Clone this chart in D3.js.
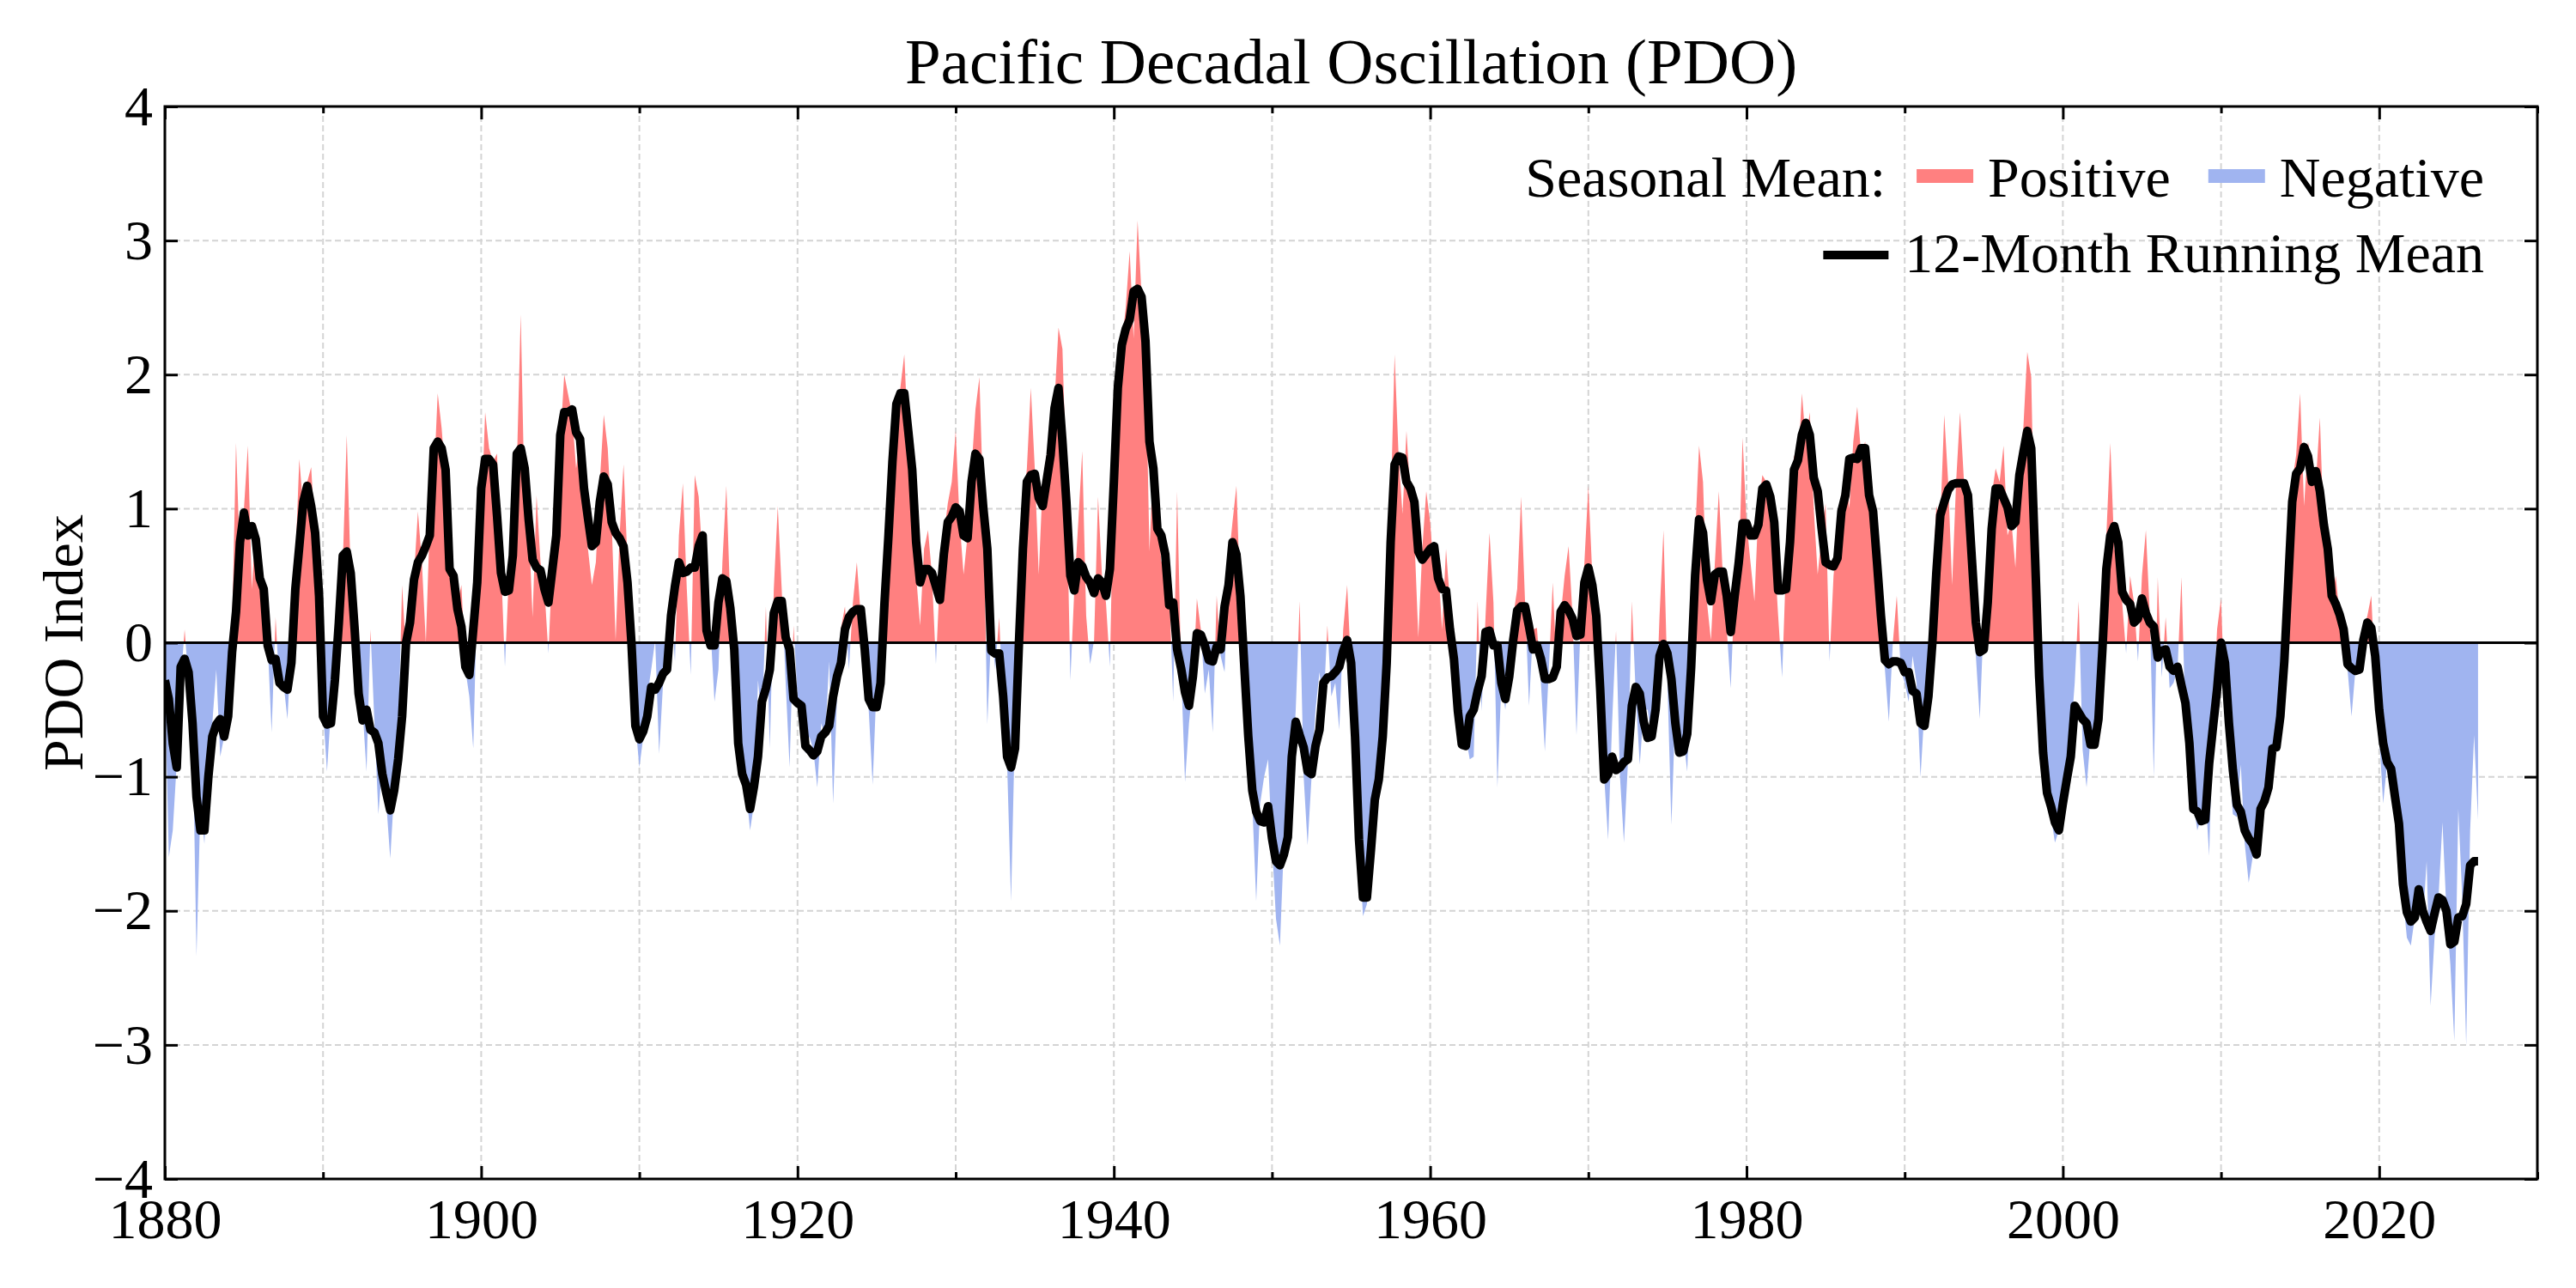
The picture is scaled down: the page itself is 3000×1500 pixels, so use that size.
<!DOCTYPE html>
<html lang="en">
<head>
<meta charset="UTF-8">
<title>Pacific Decadal Oscillation (PDO)</title>
<script src="https://cdn.jsdelivr.net/npm/d3@7"></script>
<style>
    body{ margin:0; background:#fff; }
    text{
        font-family: "Liberation Serif", "Times New Roman", serif;
        fill: #000;
    }
</style>
</head>
<body>
<div class="container"></div>
<script>
    ////////////////////////////////////////////////////////////////
    /*          Data (quarterly, starting 1880.00)                */
    ////////////////////////////////////////////////////////////////

    const startYear = 1880
    const stepYears = 0.25

    // seasonal mean PDO index, one value per season
    const seasonal = [
        -0.30,-1.60,-1.40,-0.90, -0.30,0.10,-0.30,-0.60, -2.34,-1.20,-1.50,-0.90, -0.60,-0.20,-0.85,-0.70, -0.50,0.10,1.49,0.60,
        1.00,1.47,0.40,0.90, 0.50,0.30,0.00,-0.67, 0.19,-0.35,-0.30,-0.57, 0.00,0.60,1.37,1.00, 1.20,1.31,0.80,0.20,
        -0.50,-0.96,-0.50,-0.10, 0.30,0.60,1.55,0.50, 0.10,-0.40,-0.50,-0.96, 0.10,-0.60,-1.28,-0.90, -1.20,-1.61,-1.10,-0.70,
        0.43,-0.10,0.30,0.50, 0.98,0.60,0.00,0.90, 1.20,1.86,1.60,1.20, 0.70,0.55,0.30,0.43, -0.20,-0.40,-0.79,0.40,
        0.90,1.72,1.45,1.35, 1.41,0.60,-0.18,0.50, 0.90,1.30,2.45,1.00, 0.90,0.19,1.10,0.60, 0.40,-0.08,0.60,0.90,
        1.50,2.00,1.85,1.70, 1.30,1.50,1.00,0.70, 0.43,0.60,1.20,1.70, 1.45,0.90,0.02,0.80, 1.33,0.60,0.10,-0.60,
        -0.93,-0.70,-0.40,-0.20, 0.02,-0.83,-0.30,-0.10, 0.30,-0.14,0.80,1.19, 0.40,-0.24,1.25,1.09, 0.60,0.10,0.10,-0.44,
        -0.20,0.60,1.17,0.30, -0.30,-0.83,-0.90,-1.10, -1.40,-1.20,-0.28,-0.60, 0.27,-0.79,0.40,1.02, 0.40,-0.30,-0.93,0.13,
        -0.40,-0.50,-0.83,-0.70, -0.80,-1.08,-0.60,-0.70, -0.14,-1.20,-0.40,0.11, 0.27,-0.20,0.30,0.60, 0.20,-0.20,-0.50,-1.06,
        -0.30,0.10,0.50,1.00, 1.40,1.60,1.90,2.15, 1.50,1.20,0.50,0.13, 0.70,0.84,0.50,-0.16, 0.50,0.80,1.04,1.20,
        1.58,0.90,0.51,0.80, 1.30,1.74,1.98,1.00, -0.61,0.10,-0.20,0.19, -0.50,-0.90,-1.93,-0.60, 0.30,1.00,1.30,1.90,
        1.30,0.51,1.20,1.40, 1.60,1.80,2.35,2.19, 1.20,-0.28,0.40,0.90, 1.43,0.20,-0.16,0.02, 1.09,0.50,0.30,-0.18,
        1.30,2.02,2.23,2.50, 2.92,2.27,3.15,2.60, 2.20,0.68,1.40,1.00, 0.60,0.70,0.40,-0.44, 1.13,-0.20,-1.04,-0.60,
        -0.30,0.33,0.10,-0.38, -0.20,-0.67,0.35,-0.10, -0.22,0.60,0.90,1.17, 0.30,-0.30,-0.90,-1.20, -1.93,-1.20,-1.00,-0.87,
        -1.50,-2.06,-2.26,-1.50, -1.20,-1.00,-0.50,0.31, -1.00,-1.51,-1.00,-0.50, -0.22,-0.50,0.13,-0.40, -0.30,-0.65,0.10,0.43,
        -0.20,-1.00,-1.50,-2.04, -1.95,-1.50,-1.10,-0.90, -0.50,0.20,1.00,2.15, 1.40,0.96,1.58,1.10, 0.80,0.04,0.70,1.13,
        0.90,0.50,0.60,0.10, 0.70,0.30,-0.30,-0.60, -0.80,-0.70,-0.87,-0.85, 0.31,-0.51,0.20,0.82, 0.30,-1.08,-0.30,-0.50,
        -0.20,0.20,0.40,1.09, 0.30,-0.47,0.10,0.11, -0.30,-0.81,-0.20,0.45, -0.20,0.20,0.50,0.72, 0.20,-0.69,0.10,0.60,
        1.17,0.50,0.10,-0.50, -1.00,-1.47,-0.60,0.09, -1.00,-1.49,-0.90,0.31, -0.40,-0.91,-0.50,-0.50, -0.71,-0.60,0.20,0.84,
        -0.30,-1.36,-0.50,-0.80, -0.70,-0.96,-0.20,0.80, 1.47,1.20,0.30,0.02, 0.60,1.13,0.50,0.10, -0.34,0.40,0.50,1.53,
        0.90,0.60,0.31,1.00, 1.25,1.20,1.00,0.70, 0.20,-0.26,0.60,1.00, 1.40,1.30,1.86,1.50, 1.72,1.00,0.51,0.80,
        1.04,-0.14,0.50,0.80, 1.10,1.30,1.00,1.50, 1.76,1.40,1.50,1.20, 0.70,0.40,0.00,-0.20, -0.59,0.00,0.35,-0.20,
        -0.30,-0.44,-0.10,-0.30, -1.00,-0.50,-0.20,0.40, 1.02,0.90,1.70,1.20, 0.43,1.20,1.72,1.20, 0.90,0.30,-0.10,-0.57,
        0.20,0.50,1.10,1.30, 1.20,1.47,0.80,0.90, 0.56,1.30,1.60,2.17, 1.98,0.50,-0.40,-1.00, -1.20,-1.30,-1.49,-1.40,
        -1.00,-1.20,-0.70,-0.30, 0.31,-0.80,-1.08,-0.70, -0.70,-0.40,0.20,0.80, 1.49,0.70,0.60,0.30, -0.08,0.50,0.30,-0.14,
        0.50,0.84,0.20,-1.00, 0.49,-0.26,0.19,-0.34, -0.30,-0.20,0.49,-0.60, -1.00,-1.20,-1.40,-1.30, -1.10,-1.59,-0.50,0.10,
        0.33,-0.50,-0.90,-1.28, -1.30,-0.91,-1.50,-1.79, -1.60,-1.50,-1.30,-1.10, -1.20,-0.80,-0.60,-0.40, 0.00,0.60,1.20,1.40,
        1.86,1.02,1.50,1.30, 1.20,1.68,0.80,0.50, 0.30,0.50,0.20,0.10, -0.20,-0.55,-0.20,-0.10, 0.10,0.20,0.35,-0.30,
        -0.70,-1.20,-0.90,-0.95, -1.30,-1.50,-1.90,-2.20, -2.26,-2.05,-1.90,-2.10, -1.63,-2.71,-2.20,-1.90, -1.34,-2.00,-2.40,-2.97,
        -1.24,-1.90,-3.00,-1.40, -0.69,-1.32
    ]

    // 12-month running mean, sampled on the same quarterly grid
    const runningMean = [
        -0.28,-0.42,-0.75,-0.93, -0.18,-0.12,-0.22,-0.60, -1.15,-1.40,-1.40,-1.00, -0.70,-0.61,-0.57,-0.70, -0.55,-0.07,0.23,0.75,
        0.97,0.80,0.87,0.77, 0.48,0.40,-0.02,-0.13, -0.12,-0.30,-0.33,-0.35, -0.15,0.40,0.72,1.05, 1.17,1.02,0.82,0.35,
        -0.55,-0.61,-0.60,-0.28, 0.15,0.65,0.68,0.52, 0.10,-0.38,-0.58,-0.50, -0.65,-0.67,-0.75,-0.98, -1.12,-1.25,-1.10,-0.87,
        -0.55,0.00,0.15,0.47, 0.60,0.65,0.72,0.80, 1.45,1.50,1.45,1.29, 0.55,0.50,0.25,0.12, -0.18,-0.24,0.10,0.45,
        1.15,1.37,1.37,1.33, 0.95,0.52,0.38,0.39, 0.65,1.41,1.45,1.30, 0.92,0.62,0.56,0.54, 0.40,0.30,0.55,0.80,
        1.55,1.72,1.72,1.74, 1.57,1.52,1.15,0.93, 0.72,0.75,1.05,1.24, 1.18,0.90,0.82,0.78, 0.72,0.45,0.00,-0.62,
        -0.72,-0.66,-0.55,-0.33, -0.35,-0.30,-0.23,-0.20, 0.20,0.42,0.60,0.52, 0.53,0.56,0.56,0.72, 0.80,0.09,-0.02,-0.02,
        0.30,0.48,0.46,0.26, -0.05,-0.75,-0.98,-1.06, -1.24,-1.07,-0.85,-0.44, -0.34,-0.20,0.22,0.31, 0.31,0.04,-0.05,-0.42,
        -0.45,-0.47,-0.77,-0.80, -0.84,-0.81,-0.70,-0.67, -0.62,-0.40,-0.25,-0.15, 0.10,0.19,0.23,0.25, 0.25,-0.05,-0.42,-0.48,
        -0.48,-0.30,0.30,0.80, 1.35,1.78,1.86,1.86, 1.58,1.29,0.75,0.45, 0.55,0.55,0.52,0.42, 0.32,0.66,0.90,0.94,
        1.01,0.98,0.80,0.78, 1.20,1.41,1.37,1.00, 0.70,-0.06,-0.08,-0.08, -0.40,-0.85,-0.93,-0.79, 0.00,0.70,1.20,1.25,
        1.26,1.08,1.02,1.21, 1.40,1.75,1.90,1.50, 1.05,0.50,0.39,0.60, 0.57,0.49,0.45,0.37, 0.48,0.45,0.35,0.55,
        1.20,1.90,2.22,2.34, 2.41,2.62,2.64,2.58, 2.25,1.50,1.30,0.85, 0.80,0.66,0.28,0.30, -0.05,-0.19,-0.37,-0.47,
        -0.25,0.07,0.06,-0.02, -0.13,-0.14,-0.03,-0.05, 0.27,0.43,0.75,0.66, 0.35,-0.18,-0.70,-1.10, -1.26,-1.33,-1.34,-1.22,
        -1.46,-1.63,-1.66,-1.58, -1.45,-0.85,-0.59,-0.69, -0.78,-0.96,-0.98,-0.77, -0.65,-0.30,-0.26,-0.25, -0.22,-0.18,-0.06,0.02,
        -0.15,-0.70,-1.47,-1.90, -1.90,-1.55,-1.17,-1.02, -0.70,-0.15,0.75,1.33, 1.39,1.38,1.20,1.15, 1.05,0.68,0.62,0.66,
        0.70,0.72,0.48,0.40, 0.39,0.10,-0.12,-0.51, -0.76,-0.77,-0.55,-0.50, -0.36,-0.25,0.08,0.09, -0.02,-0.02,-0.30,-0.42,
        -0.25,0.02,0.24,0.27, 0.27,0.12,-0.05,-0.02, -0.12,-0.27,-0.27,-0.26, -0.18,0.23,0.28,0.24, 0.18,0.05,0.06,0.45,
        0.56,0.43,0.20,-0.35, -1.02,-0.98,-0.85,-0.95, -0.93,-0.89,-0.87,-0.47, -0.33,-0.38,-0.59,-0.71, -0.70,-0.50,-0.10,-0.01,
        -0.08,-0.27,-0.60,-0.82, -0.81,-0.68,-0.18,0.50, 0.92,0.82,0.47,0.31, 0.51,0.53,0.53,0.35, 0.08,0.35,0.59,0.89,
        0.89,0.80,0.80,0.88, 1.15,1.18,1.09,0.90, 0.39,0.39,0.40,0.75, 1.29,1.36,1.55,1.64, 1.55,1.23,1.13,0.85,
        0.60,0.58,0.57,0.63, 0.98,1.10,1.37,1.38, 1.37,1.45,1.45,1.10, 0.98,0.60,0.20,-0.13, -0.16,-0.14,-0.14,-0.15,
        -0.22,-0.22,-0.36,-0.38, -0.60,-0.62,-0.40,0.00, 0.52,0.95,1.05,1.14, 1.18,1.19,1.19,1.19, 1.10,0.62,0.15,-0.07,
        -0.05,0.30,0.85,1.15, 1.15,1.08,1.01,0.87, 0.90,1.25,1.42,1.58, 1.45,0.62,-0.25,-0.82, -1.12,-1.22,-1.34,-1.40,
        -1.20,-1.02,-0.85,-0.47, -0.52,-0.57,-0.60,-0.76, -0.76,-0.57,-0.05,0.55, 0.80,0.87,0.75,0.38, 0.32,0.29,0.15,0.18,
        0.33,0.22,0.15,0.12, -0.11,-0.06,-0.05,-0.18, -0.21,-0.18,-0.32,-0.45, -0.75,-1.24,-1.26,-1.33, -1.32,-0.90,-0.62,-0.35,
        0.00,-0.15,-0.60,-0.95, -1.21,-1.26,-1.40,-1.46, -1.50,-1.58,-1.24,-1.18, -1.08,-0.79,-0.78,-0.55, -0.14,0.45,1.05,1.26,
        1.30,1.46,1.39,1.20, 1.28,1.13,0.88,0.70, 0.35,0.29,0.21,0.10, -0.16,-0.19,-0.21,-0.20, 0.02,0.15,0.11,-0.10,
        -0.50,-0.75,-0.89,-0.94, -1.15,-1.35,-1.80,-2.01, -2.08,-2.05,-1.84,-2.00, -2.08,-2.15,-2.02,-1.90, -1.92,-2.00,-2.25,-2.23,
        -2.05,-2.04,-1.95,-1.66, -1.63,-1.63
    ]

    const xMajorTicks = [1880, 1900, 1920, 1940, 1960, 1980, 2000, 2020]
    const xMinorTicks = [1890, 1910, 1930, 1950, 1970, 1990, 2010, 2030]
    const yTicks = [-4, -3, -2, -1, 0, 1, 2, 3, 4]

    const titleText = "Pacific Decadal Oscillation (PDO)"
    const yLabelText = "PDO Index"
    const posColor = "#ff8080"
    const negColor = "#a0b4f0"

    ////////////////////////////////////////////////////////////////
    /*          Constants and Visualization Containers           */
    ////////////////////////////////////////////////////////////////

    const W = 3000, H = 1500
    const plot = {left: 192, right: 2955, top: 124, bottom: 1373}
    const fontSize = 66

    const svg = d3.select(".container")
        .append("svg")
        .attr("width", W)
        .attr("height", H)
        .attr("viewBox", `0 0 ${W} ${H}`)
    svg.append("rect").attr("width", W).attr("height", H).attr("fill", "#fff")

    const x = d3.scaleLinear().domain([1880, 2030]).range([plot.left, plot.right])
    const y = d3.scaleLinear().domain([-4, 4]).range([plot.bottom, plot.top])

    const seasonPts = seasonal.map((v, i) => ({t: startYear + i * stepYears, v: v}))
    const meanPts = runningMean.map((v, i) => ({t: startYear + i * stepYears, v: v}))

    // clip regions: above zero / below zero / whole plot
    const defs = svg.append("defs")
    defs.append("clipPath").attr("id", "clipPos").append("rect")
        .attr("x", plot.left).attr("y", plot.top)
        .attr("width", plot.right - plot.left).attr("height", y(0) - plot.top)
    defs.append("clipPath").attr("id", "clipNeg").append("rect")
        .attr("x", plot.left).attr("y", y(0))
        .attr("width", plot.right - plot.left).attr("height", plot.bottom - y(0))
    defs.append("clipPath").attr("id", "clipPlot").append("rect")
        .attr("x", plot.left).attr("y", plot.top)
        .attr("width", plot.right - plot.left).attr("height", plot.bottom - plot.top)

    ////////////////////////////////////////////////////////////////
    /*          Grid                                              */
    ////////////////////////////////////////////////////////////////

    const grid = svg.append("g").attr("stroke", "#d4d4d4").attr("stroke-width", 2)
        .attr("stroke-dasharray", "7,4")
    grid.selectAll(".vgrid")
        .data(xMajorTicks.concat(xMinorTicks).filter(d => d > 1880 && d < 2030))
        .join("line")
        .attr("x1", d => x(d)).attr("x2", d => x(d))
        .attr("y1", plot.top).attr("y2", plot.bottom)
    grid.selectAll(".hgrid")
        .data(yTicks.filter(d => d > -4 && d < 4))
        .join("line")
        .attr("x1", plot.left).attr("x2", plot.right)
        .attr("y1", d => y(d)).attr("y2", d => y(d))

    ////////////////////////////////////////////////////////////////
    /*          Seasonal fill and running mean                    */
    ////////////////////////////////////////////////////////////////

    const area = d3.area()
        .x(d => x(d.t))
        .y0(y(0))
        .y1(d => y(d.v))

    svg.append("path").datum(seasonPts)
        .attr("d", area).attr("fill", posColor)
        .attr("clip-path", "url(#clipPos)")
    svg.append("path").datum(seasonPts)
        .attr("d", area).attr("fill", negColor)
        .attr("clip-path", "url(#clipNeg)")

    svg.append("line")
        .attr("x1", plot.left).attr("x2", plot.right)
        .attr("y1", y(0)).attr("y2", y(0))
        .attr("stroke", "#000").attr("stroke-width", 3)

    const line = d3.line().x(d => x(d.t)).y(d => y(d.v))
    svg.append("path").datum(meanPts)
        .attr("d", line)
        .attr("fill", "none").attr("stroke", "#000")
        .attr("stroke-width", 10).attr("stroke-linejoin", "round").attr("stroke-linecap", "butt")
        .attr("clip-path", "url(#clipPlot)")

    ////////////////////////////////////////////////////////////////
    /*          Axes (ticks pointing inward on all four sides)    */
    ////////////////////////////////////////////////////////////////

    const majorLen = 15, minorLen = 8

    svg.append("g").attr("transform", `translate(0,${plot.bottom})`)
        .call(d3.axisBottom(x).tickValues(xMajorTicks).tickFormat(d3.format("d"))
            .tickSizeInner(-majorLen).tickSizeOuter(0).tickPadding(22))
    svg.append("g").attr("transform", `translate(0,${plot.bottom})`)
        .call(d3.axisBottom(x).tickValues(xMinorTicks).tickFormat("")
            .tickSizeInner(-minorLen).tickSizeOuter(0))
    svg.append("g").attr("transform", `translate(0,${plot.top})`)
        .call(d3.axisTop(x).tickValues(xMajorTicks).tickFormat("")
            .tickSizeInner(-majorLen).tickSizeOuter(0))
    svg.append("g").attr("transform", `translate(0,${plot.top})`)
        .call(d3.axisTop(x).tickValues(xMinorTicks).tickFormat("")
            .tickSizeInner(-minorLen).tickSizeOuter(0))
    svg.append("g").attr("transform", `translate(${plot.left},0)`)
        .call(d3.axisLeft(y).tickValues(yTicks).tickFormat(d3.format("d"))
            .tickSizeInner(-majorLen).tickSizeOuter(0).tickPadding(14))
    svg.append("g").attr("transform", `translate(${plot.right},0)`)
        .call(d3.axisRight(y).tickValues(yTicks).tickFormat("")
            .tickSizeInner(-majorLen).tickSizeOuter(0))

    svg.selectAll(".domain").remove()
    svg.selectAll(".tick line").attr("stroke", "#000").attr("stroke-width", 3)
    svg.selectAll(".tick text")
        .attr("font-family", "Liberation Serif, Times New Roman, serif")
        .attr("font-size", fontSize).attr("fill", "#000")

    // frame
    svg.append("rect")
        .attr("x", plot.left).attr("y", plot.top)
        .attr("width", plot.right - plot.left).attr("height", plot.bottom - plot.top)
        .attr("fill", "none").attr("stroke", "#000").attr("stroke-width", 3)

    ////////////////////////////////////////////////////////////////
    /*          Title, axis label                                 */
    ////////////////////////////////////////////////////////////////

    svg.append("text")
        .attr("x", (plot.left + plot.right) / 2).attr("y", 97)
        .attr("text-anchor", "middle").attr("font-size", 75)
        .text(titleText)

    svg.append("text")
        .attr("transform", `translate(96,${(plot.top + plot.bottom) / 2})rotate(-90)`)
        .attr("text-anchor", "middle").attr("font-size", fontSize)
        .text(yLabelText)

    ////////////////////////////////////////////////////////////////
    /*          Legend (right aligned, two rows, no frame)        */
    ////////////////////////////////////////////////////////////////

    const legendRight = 2893
    function legendRow(items, baseline, markOffset){
        const g = svg.append("g")
        let cx = 0
        items.forEach(it => {
            cx += it.gap || 0
            if(it.kind === "text"){
                const t = g.append("text").attr("x", cx).attr("y", baseline)
                    .attr("font-size", fontSize).text(it.label)
                cx += t.node().getComputedTextLength()
            } else if(it.kind === "patch"){
                g.append("rect").attr("x", cx).attr("y", baseline - markOffset - 8)
                    .attr("width", 66).attr("height", 16).attr("fill", it.color)
                cx += 66
            } else {
                g.append("line").attr("x1", cx).attr("x2", cx + 76)
                    .attr("y1", baseline - markOffset).attr("y2", baseline - markOffset)
                    .attr("stroke", "#000").attr("stroke-width", 10)
                cx += 76
            }
        })
        g.attr("transform", `translate(${legendRight - cx},0)`)
    }
    legendRow([
        {kind: "text", label: "Seasonal Mean:"},
        {kind: "patch", color: posColor, gap: 36},
        {kind: "text", label: "Positive", gap: 17},
        {kind: "patch", color: negColor, gap: 44},
        {kind: "text", label: "Negative", gap: 17}
    ], 229, 24)
    legendRow([
        {kind: "line"},
        {kind: "text", label: "12-Month Running Mean", gap: 19}
    ], 317, 20)
</script>
</body>
</html>
